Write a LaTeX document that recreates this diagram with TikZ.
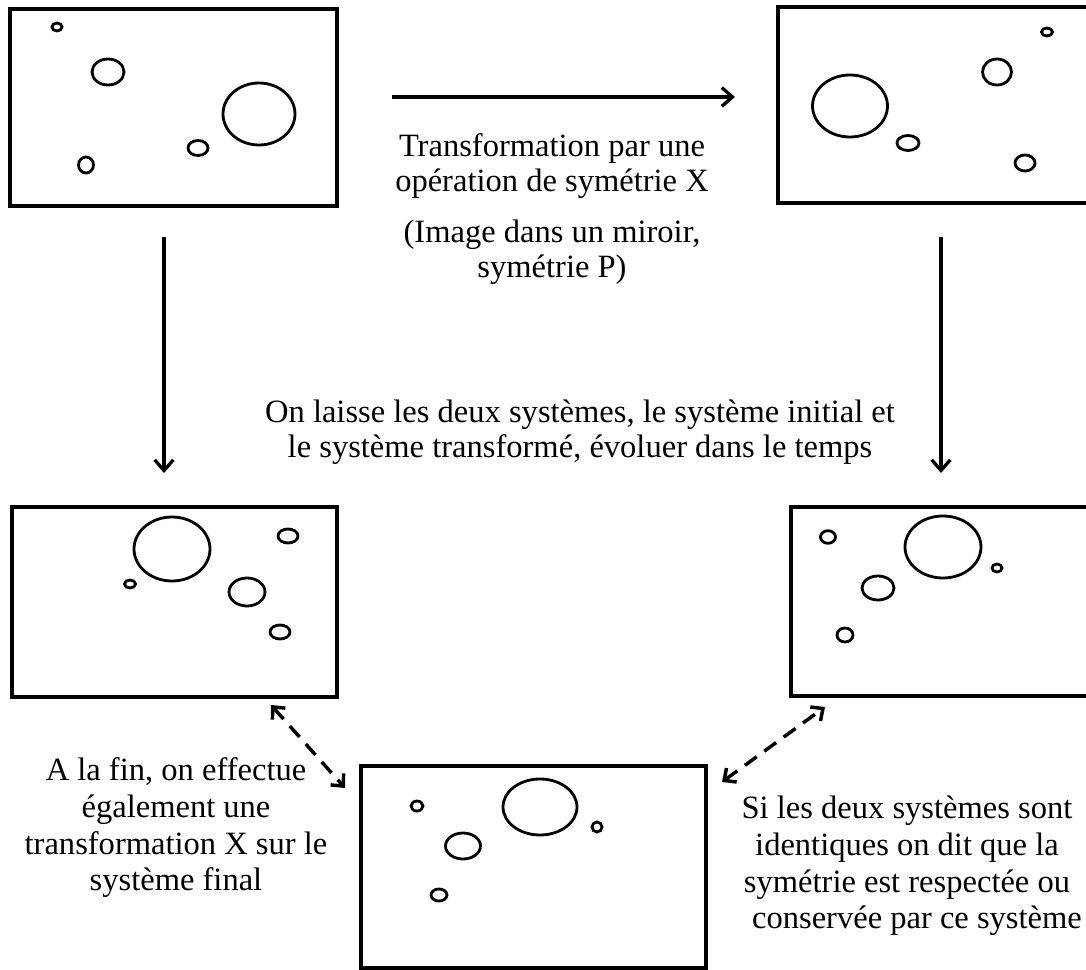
\documentclass[tikz,border=0pt]{standalone}
\usepackage{fontspec}
\setmainfont{Liberation Serif}
\usetikzlibrary{arrows.meta,fit}
\newcommand{\bubble}[4]{\draw[bub] (#1,#2) ellipse [x radius=#3*0.75pt, y radius=#4*0.75pt];}
\begin{document}
\begin{tikzpicture}[x=0.75pt,y=-0.75pt,
  panel/.style={draw, line width=3pt, inner sep=0pt},
  bub/.style={line width=2.1pt},
  flow/.style={line width=2.5pt, -{Straight Barb[length=8pt,width=14pt]}},
  link/.style={line width=2.6pt, dash pattern=on 11pt off 7pt,
     {Straight Barb[length=7pt,width=13pt]}-{Straight Barb[length=7pt,width=13pt]}},
  lbl/.style={font=\fontsize{24.4}{26.5}\selectfont, align=center, inner sep=0pt},
  lblb/.style={font=\fontsize{24.4}{27.5}\selectfont, align=center, inner sep=0pt}]
\useasboundingbox (0,0) rectangle (1086,970);
\fill[white] (0,0) rectangle (1086,970);
\clip (0,0) rectangle (1086,970);

% panels
\node[panel, fit={(10,9) (337,206)}] (tl) {};
\node[panel, fit={(778,7) (1102,203)}] (tr) {};
\node[panel, fit={(12,507) (337,697)}] (bl) {};
\node[panel, fit={(791,507) (1102,696)}] (br) {};
\node[panel, fit={(361,766) (706,968)}] (bm) {};

% bubbles top-left
\bubble{57}{27}{5}{4}
\bubble{108}{72}{16}{13}
\bubble{259}{114}{36}{31}
\bubble{198}{148}{10}{7.5}
\bubble{86}{165}{7.5}{8}
% bubbles top-right
\bubble{850}{106}{37.5}{31}
\bubble{908}{143}{11}{7.5}
\bubble{997}{72}{14.5}{13}
\bubble{1025}{163}{10}{8}
\bubble{1047}{32}{5.5}{4}
% bubbles bottom-left
\bubble{172}{549}{38}{32}
\bubble{130}{584}{5.5}{4}
\bubble{288}{536}{10}{7}
\bubble{247}{592}{18}{14}
\bubble{280}{632}{10}{7}
% bubbles bottom-right
\bubble{828}{537}{7.5}{6.3}
\bubble{943}{547}{38}{31}
\bubble{997}{568}{5}{4}
\bubble{878}{588}{16}{12}
\bubble{845}{635}{8}{7}
% bubbles bottom-middle
\bubble{417}{806}{6}{5}
\bubble{540}{807}{37}{28}
\bubble{597}{827}{5}{5}
\bubble{463}{846}{17.5}{13}
\bubble{439}{895}{8}{6}

% arrow end points
\coordinate (h1) at (392,97);
\coordinate (h2) at (735,97);
\coordinate (vl1) at (164,237);
\coordinate (vl2) at (164,473);
\coordinate (vr1) at (941,237);
\coordinate (vr2) at (941,473);
\coordinate (dl1) at (271,705);
\coordinate (dl2) at (345,788);
\coordinate (dr1) at (722,782);
\coordinate (dr2) at (825,707);

\draw[flow] (h1) -- (h2);
\draw[flow] (vl1) -- (vl2);
\draw[flow] (vr1) -- (vr2);
\draw[link] (dl1) -- (dl2);
\draw[link] (dr1) -- (dr2);

% texts
\node[lbl] (t1) at (552,166) {Transformation par une\\op\'eration de sym\'etrie X};
\node[lbl] (t2) at (552,252) {(Image dans un miroir,\\sym\'etrie P)};
\node[lbl] (t3) at (580,432) {On laisse les deux syst\`emes, le syst\`eme initial et\\le syst\`eme transform\'e, \'evoluer dans le temps};
\node[lblb] (t4) at (176,828) {A la fin, on effectue\\\'egalement une\\transformation X sur le\\syst\`eme final};
\node[lblb] (t5) at (907,866) {Si les deux syst\`emes sont\\identiques on dit que la\\sym\'etrie est respect\'ee ou\\\hspace*{15pt}conserv\'ee par ce syst\`eme};
\end{tikzpicture}
\end{document}
